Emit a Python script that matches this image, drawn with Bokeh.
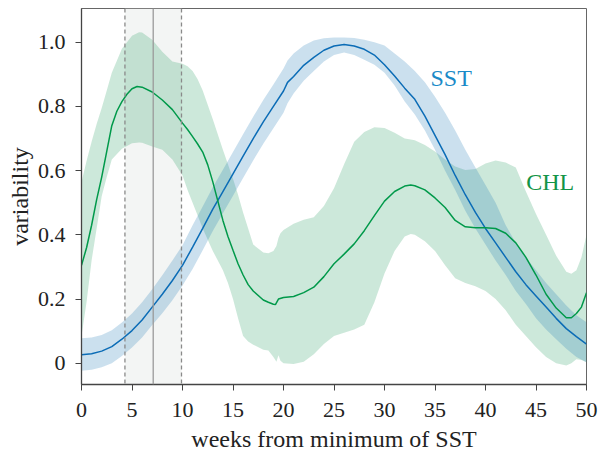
from bokeh.plotting import figure
from bokeh.models import Span, BoxAnnotation, Label, FixedTicker, Range1d
from bokeh.embed import file_html
from bokeh.resources import INLINE

# ---------------- data ----------------
weeks_sst = [0, 1, 2, 3, 4, 5, 6, 7, 8, 9, 10, 11, 12, 13, 14, 15, 16, 17, 18, 19,
             20, 20.4, 21, 22, 23, 24, 25, 26, 27, 28, 29, 30, 31, 32, 33, 34, 35,
             36, 37, 38, 39, 40, 41, 42, 43, 44, 45, 46, 47, 48, 49, 50]
sst_mean = [0.027, 0.030, 0.038, 0.052, 0.075, 0.102, 0.135, 0.175, 0.215, 0.258,
            0.305, 0.362, 0.420, 0.480, 0.535, 0.590, 0.645, 0.700, 0.752, 0.800,
            0.848, 0.875, 0.893, 0.928, 0.953, 0.975, 0.988, 0.993, 0.988, 0.978,
            0.960, 0.930, 0.895, 0.857, 0.822, 0.770, 0.710, 0.650, 0.585, 0.525,
            0.470, 0.420, 0.375, 0.330, 0.285, 0.245, 0.210, 0.175, 0.140, 0.108,
            0.083, 0.060]
sst_hi = [0.078, 0.080, 0.088, 0.103, 0.127, 0.155, 0.190, 0.231, 0.274, 0.320,
          0.368, 0.430, 0.488, 0.548, 0.603, 0.658, 0.713, 0.768, 0.820, 0.868,
          0.918, 0.943, 0.965, 0.990, 1.005, 1.012, 1.015, 1.015, 1.013, 1.008,
          1.000, 0.990, 0.965, 0.940, 0.910, 0.875, 0.830, 0.780, 0.725, 0.665,
          0.610, 0.555, 0.500, 0.430, 0.375, 0.330, 0.290, 0.250, 0.215, 0.180,
          0.150, 0.128]
sst_lo = [-0.023, -0.020, -0.012, 0.000, 0.023, 0.049, 0.080, 0.119, 0.156, 0.196,
          0.242, 0.294, 0.352, 0.412, 0.467, 0.522, 0.577, 0.632, 0.684, 0.732,
          0.780, 0.810, 0.840, 0.880, 0.910, 0.940, 0.960, 0.968, 0.960, 0.945,
          0.930, 0.905, 0.865, 0.815, 0.775, 0.725, 0.665, 0.600, 0.540, 0.475,
          0.420, 0.370, 0.320, 0.275, 0.225, 0.185, 0.140, 0.105, 0.075, 0.045,
          0.020, 0.003]

weeks_chl = [0, 0.5, 1, 1.5, 2, 2.5, 3, 3.5, 4, 4.5, 5, 5.5, 6, 7, 8, 9, 10, 10.5,
             11, 11.5, 12, 12.5, 13, 13.5, 14, 14.5, 15, 15.5, 16, 16.5, 17, 18,
             18.5, 19, 19.2, 19.5, 20, 21, 22, 23, 24, 25, 26, 27, 28, 29, 30, 31,
             32, 32.6, 33, 34, 35, 36, 37, 38, 39, 40, 41, 42, 43, 44, 45, 46, 47,
             48, 48.5, 49, 49.5, 50]
chl_mean = [0.305, 0.360, 0.430, 0.510, 0.580, 0.660, 0.740, 0.785, 0.815, 0.838,
            0.855, 0.862, 0.860, 0.845, 0.820, 0.790, 0.748, 0.728, 0.706, 0.683,
            0.658, 0.618, 0.565, 0.505, 0.445, 0.395, 0.352, 0.310, 0.275, 0.245,
            0.225, 0.197, 0.190, 0.184, 0.183, 0.200, 0.205, 0.208, 0.220, 0.237,
            0.270, 0.310, 0.340, 0.372, 0.413, 0.460, 0.505, 0.535, 0.552, 0.555,
            0.553, 0.540, 0.515, 0.485, 0.445, 0.425, 0.422, 0.422, 0.420, 0.405,
            0.375, 0.330, 0.275, 0.215, 0.172, 0.142, 0.142, 0.155, 0.175, 0.220]

weeks_chl_band = [0, 0.5, 1, 1.5, 2, 2.5, 3, 4, 5, 5.7, 6, 7, 8, 9, 10, 10.5, 11,
                  11.5, 12, 13, 14, 14.5, 15, 15.5, 16, 16.5, 17, 18, 18.5, 19, 19.3,
                  19.5, 19.7, 20, 21, 22, 23, 24, 25, 26, 27, 28, 29, 30, 31, 32,
                  32.6, 33, 34, 35, 36, 37, 38, 39, 40, 41, 42, 43, 44, 45, 46, 47,
                  48, 48.5, 49, 49.5, 50]
chl_hi = [0.565, 0.630, 0.690, 0.745, 0.795, 0.850, 0.905, 0.980, 1.020, 1.031,
          1.030, 1.008, 0.970, 0.940, 0.933, 0.925, 0.910, 0.885, 0.850, 0.760,
          0.665, 0.620, 0.575, 0.525, 0.470, 0.420, 0.370, 0.345, 0.343, 0.350,
          0.365, 0.390, 0.405, 0.415, 0.435, 0.447, 0.455, 0.490, 0.545, 0.620,
          0.690, 0.720, 0.735, 0.733, 0.718, 0.700, 0.697, 0.695, 0.680, 0.660,
          0.635, 0.613, 0.602, 0.605, 0.622, 0.632, 0.625, 0.610, 0.535, 0.465,
          0.400, 0.335, 0.285, 0.279, 0.290, 0.330, 0.400]
chl_lo = [0.085, 0.190, 0.320, 0.420, 0.520, 0.580, 0.635, 0.668, 0.685, 0.688,
          0.687, 0.675, 0.665, 0.635, 0.585, 0.540, 0.500, 0.460, 0.420, 0.350,
          0.290, 0.250, 0.200, 0.140, 0.085, 0.068, 0.058, 0.042, 0.040, 0.020,
          0.005, 0.025, 0.008, 0.000, -0.002, 0.005, 0.028, 0.060, 0.085, 0.095,
          0.105, 0.120, 0.190, 0.280, 0.350, 0.395, 0.403, 0.400, 0.380, 0.350,
          0.305, 0.265, 0.250, 0.240, 0.225, 0.200, 0.165, 0.120, 0.085, 0.050,
          0.020, 0.000, -0.007, 0.000, 0.013, 0.010, 0.003]

event_start, event_peak, event_end = 4.3, 7.1, 9.9
x_ticks = [0, 5, 10, 15, 20, 25, 30, 35, 40, 45, 50]
y_ticks = [0, 0.2, 0.4, 0.6, 0.8, 1.0]
y_tick_labels = ["0", "0.2", "0.4", "0.6", "0.8", "1.0"]

SERIF = "Liberation Serif"

p = figure(width=600, height=457, output_backend="svg", toolbar_location=None,
           x_range=Range1d(0, 50), y_range=Range1d(-0.066, 1.105),
           min_border_left=81, min_border_right=14, min_border_top=8,
           min_border_bottom=73)
p.background_fill_color = "white"
p.border_fill_color = "white"
p.grid.visible = False
p.outline_line_color = "#666666"
p.outline_line_width = 1

# event window
p.add_layout(BoxAnnotation(left=event_start, right=event_end, fill_color="#eef1ef",
                           fill_alpha=0.7, line_color=None, level="underlay"))

# bands
p.varea(x=weeks_chl_band, y1=chl_lo, y2=chl_hi, fill_color="#008c46", fill_alpha=0.2)
p.varea(x=weeks_sst, y1=sst_lo, y2=sst_hi, fill_color="#1f77b4", fill_alpha=0.23)

for loc, dash, col in [(event_start, "4 3", "#8a8a8a"), (event_end, "4 3", "#8a8a8a"),
                       (event_peak, "solid", "#9a9a9a")]:
    p.add_layout(Span(location=loc, dimension="height", line_color=col,
                      line_width=1.3, line_dash=dash))

# mean lines
p.line(weeks_sst, sst_mean, line_color="#0b6cb6", line_width=1.5)
p.line(weeks_chl, chl_mean, line_color="#00994a", line_width=1.5)

p.add_layout(Label(x=36.6, y=0.887, text="SST", text_align="center",
                   text_baseline="middle", text_font=SERIF, text_font_size="24px",
                   text_color="#1a8ac8"))
p.add_layout(Label(x=46.4, y=0.566, text="CHL", text_align="center",
                   text_baseline="middle", text_font=SERIF, text_font_size="24px",
                   text_color="#139447"))

# axes
p.xaxis.ticker = FixedTicker(ticks=x_ticks)
p.yaxis.ticker = FixedTicker(ticks=y_ticks)
p.yaxis.major_label_overrides = {t: l for t, l in zip(y_ticks, y_tick_labels)}
p.xaxis.axis_label = "weeks from minimum of SST"
p.yaxis.axis_label = "variability"
for ax in (p.xaxis[0], p.yaxis[0]):
    ax.axis_line_color = "#444444"
    ax.axis_line_width = 1.3
    ax.major_tick_line_color = "#444444"
    ax.major_tick_in = 0
    ax.major_tick_out = 6
    ax.minor_tick_line_color = None
    ax.major_label_text_font = SERIF
    ax.major_label_text_font_size = "22px"
    ax.major_label_text_color = "#222222"
    ax.axis_label_text_font = SERIF
    ax.axis_label_text_font_size = "24px"
    ax.axis_label_text_font_style = "normal"
    ax.axis_label_text_color = "#222222"
p.xaxis.major_label_standoff = 12
p.yaxis.major_label_standoff = 10
p.xaxis.axis_label_standoff = 6
p.yaxis.axis_label_standoff = 2

open("out.html", "w").write(file_html(p, INLINE))
